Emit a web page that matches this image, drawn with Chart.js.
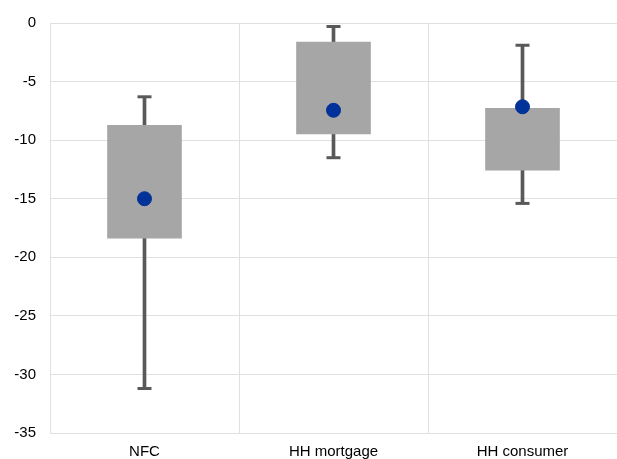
<!DOCTYPE html>
<html>
<head>
<meta charset="utf-8">
<script src="https://cdn.jsdelivr.net/npm/chart.js@4"></script>
<style>
  html, body { margin: 0; padding: 0; background: #fff; }
  #wrap { width: 617px; height: 459px; }
</style>
</head>
<body>
<div id="wrap"><canvas id="chart"></canvas></div>
<script>
// Categories and the box plot values
const categories = ['NFC', 'HH mortgage', 'HH consumer'];
const whiskerMin = [-31.2, -11.5, -15.4];
const boxLow = [-18.4, -9.5, -12.6];
const boxHigh = [-8.7, -1.6, -7.25];
const whiskerMax = [-6.3, -0.3, -1.9];
const dotValues = [-15.0, -7.45, -7.15];
const yTicks = [0, -5, -10, -15, -20, -25, -30, -35];

// Pairing the low and high values for the floating bars
const boxData = categories.map((c, i) => [boxLow[i], boxHigh[i]]);
const whiskerData = categories.map((c, i) => [whiskerMin[i], whiskerMax[i]]);

const tickFont = { family: 'Liberation Sans, Arial, sans-serif', size: 15 };

var ctx = document.getElementById('chart').getContext('2d');
var chart = new Chart(ctx, {
  type: 'bar',
  data: {
    labels: categories,
    datasets: [
      {
        type: 'line',
        label: 'Value',
        data: dotValues,
        showLine: false,
        pointStyle: 'circle',
        pointRadius: 7,
        pointBackgroundColor: '#003299',
        pointBorderColor: '#003299',
        order: 0
      },
      {
        label: 'Box',
        data: boxData,
        backgroundColor: '#a6a6a6',
        borderWidth: 0,
        grouped: false,
        categoryPercentage: 1,
        barPercentage: 0.395,
        order: 1
      },
      {
        type: 'line',
        label: 'Max cap',
        data: whiskerMax,
        showLine: false,
        pointStyle: 'line',
        pointRadius: 7,
        pointBorderWidth: 3,
        pointBorderColor: '#595959',
        order: 2
      },
      {
        type: 'line',
        label: 'Min cap',
        data: whiskerMin,
        showLine: false,
        pointStyle: 'line',
        pointRadius: 7,
        pointBorderWidth: 3,
        pointBorderColor: '#595959',
        order: 2
      },
      {
        label: 'Whisker',
        data: whiskerData,
        backgroundColor: '#595959',
        borderWidth: 0,
        grouped: false,
        barThickness: 3,
        order: 3
      }
    ]
  },
  options: {
    responsive: true,
    maintainAspectRatio: false,
    animation: false,
    layout: { autoPadding: false, padding: { top: 21, right: -5, left: 0, bottom: 0 } },
    plugins: {
      legend: { display: false },
      tooltip: { enabled: false }
    },
    scales: {
      x: {
        offset: true,
        grid: { color: '#e0e0e0', offset: true, drawTicks: false },
        border: { color: '#e0e0e0' },
        ticks: { color: '#000', font: tickFont, padding: 10, maxRotation: 0 },
        afterFit: function (scale) { scale.height = 26; }
      },
      y: {
        min: -35,
        max: 0,
        afterBuildTicks: function (scale) {
          scale.ticks = yTicks.map(v => ({ value: v }));
        },
        grid: { color: '#e0e0e0', drawTicks: false },
        border: { color: '#e0e0e0' },
        ticks: { color: '#000', font: tickFont, padding: 14 },
        afterFit: function (scale) { scale.width = 50; }
      }
    }
  }
});
</script>
</body>
</html>
